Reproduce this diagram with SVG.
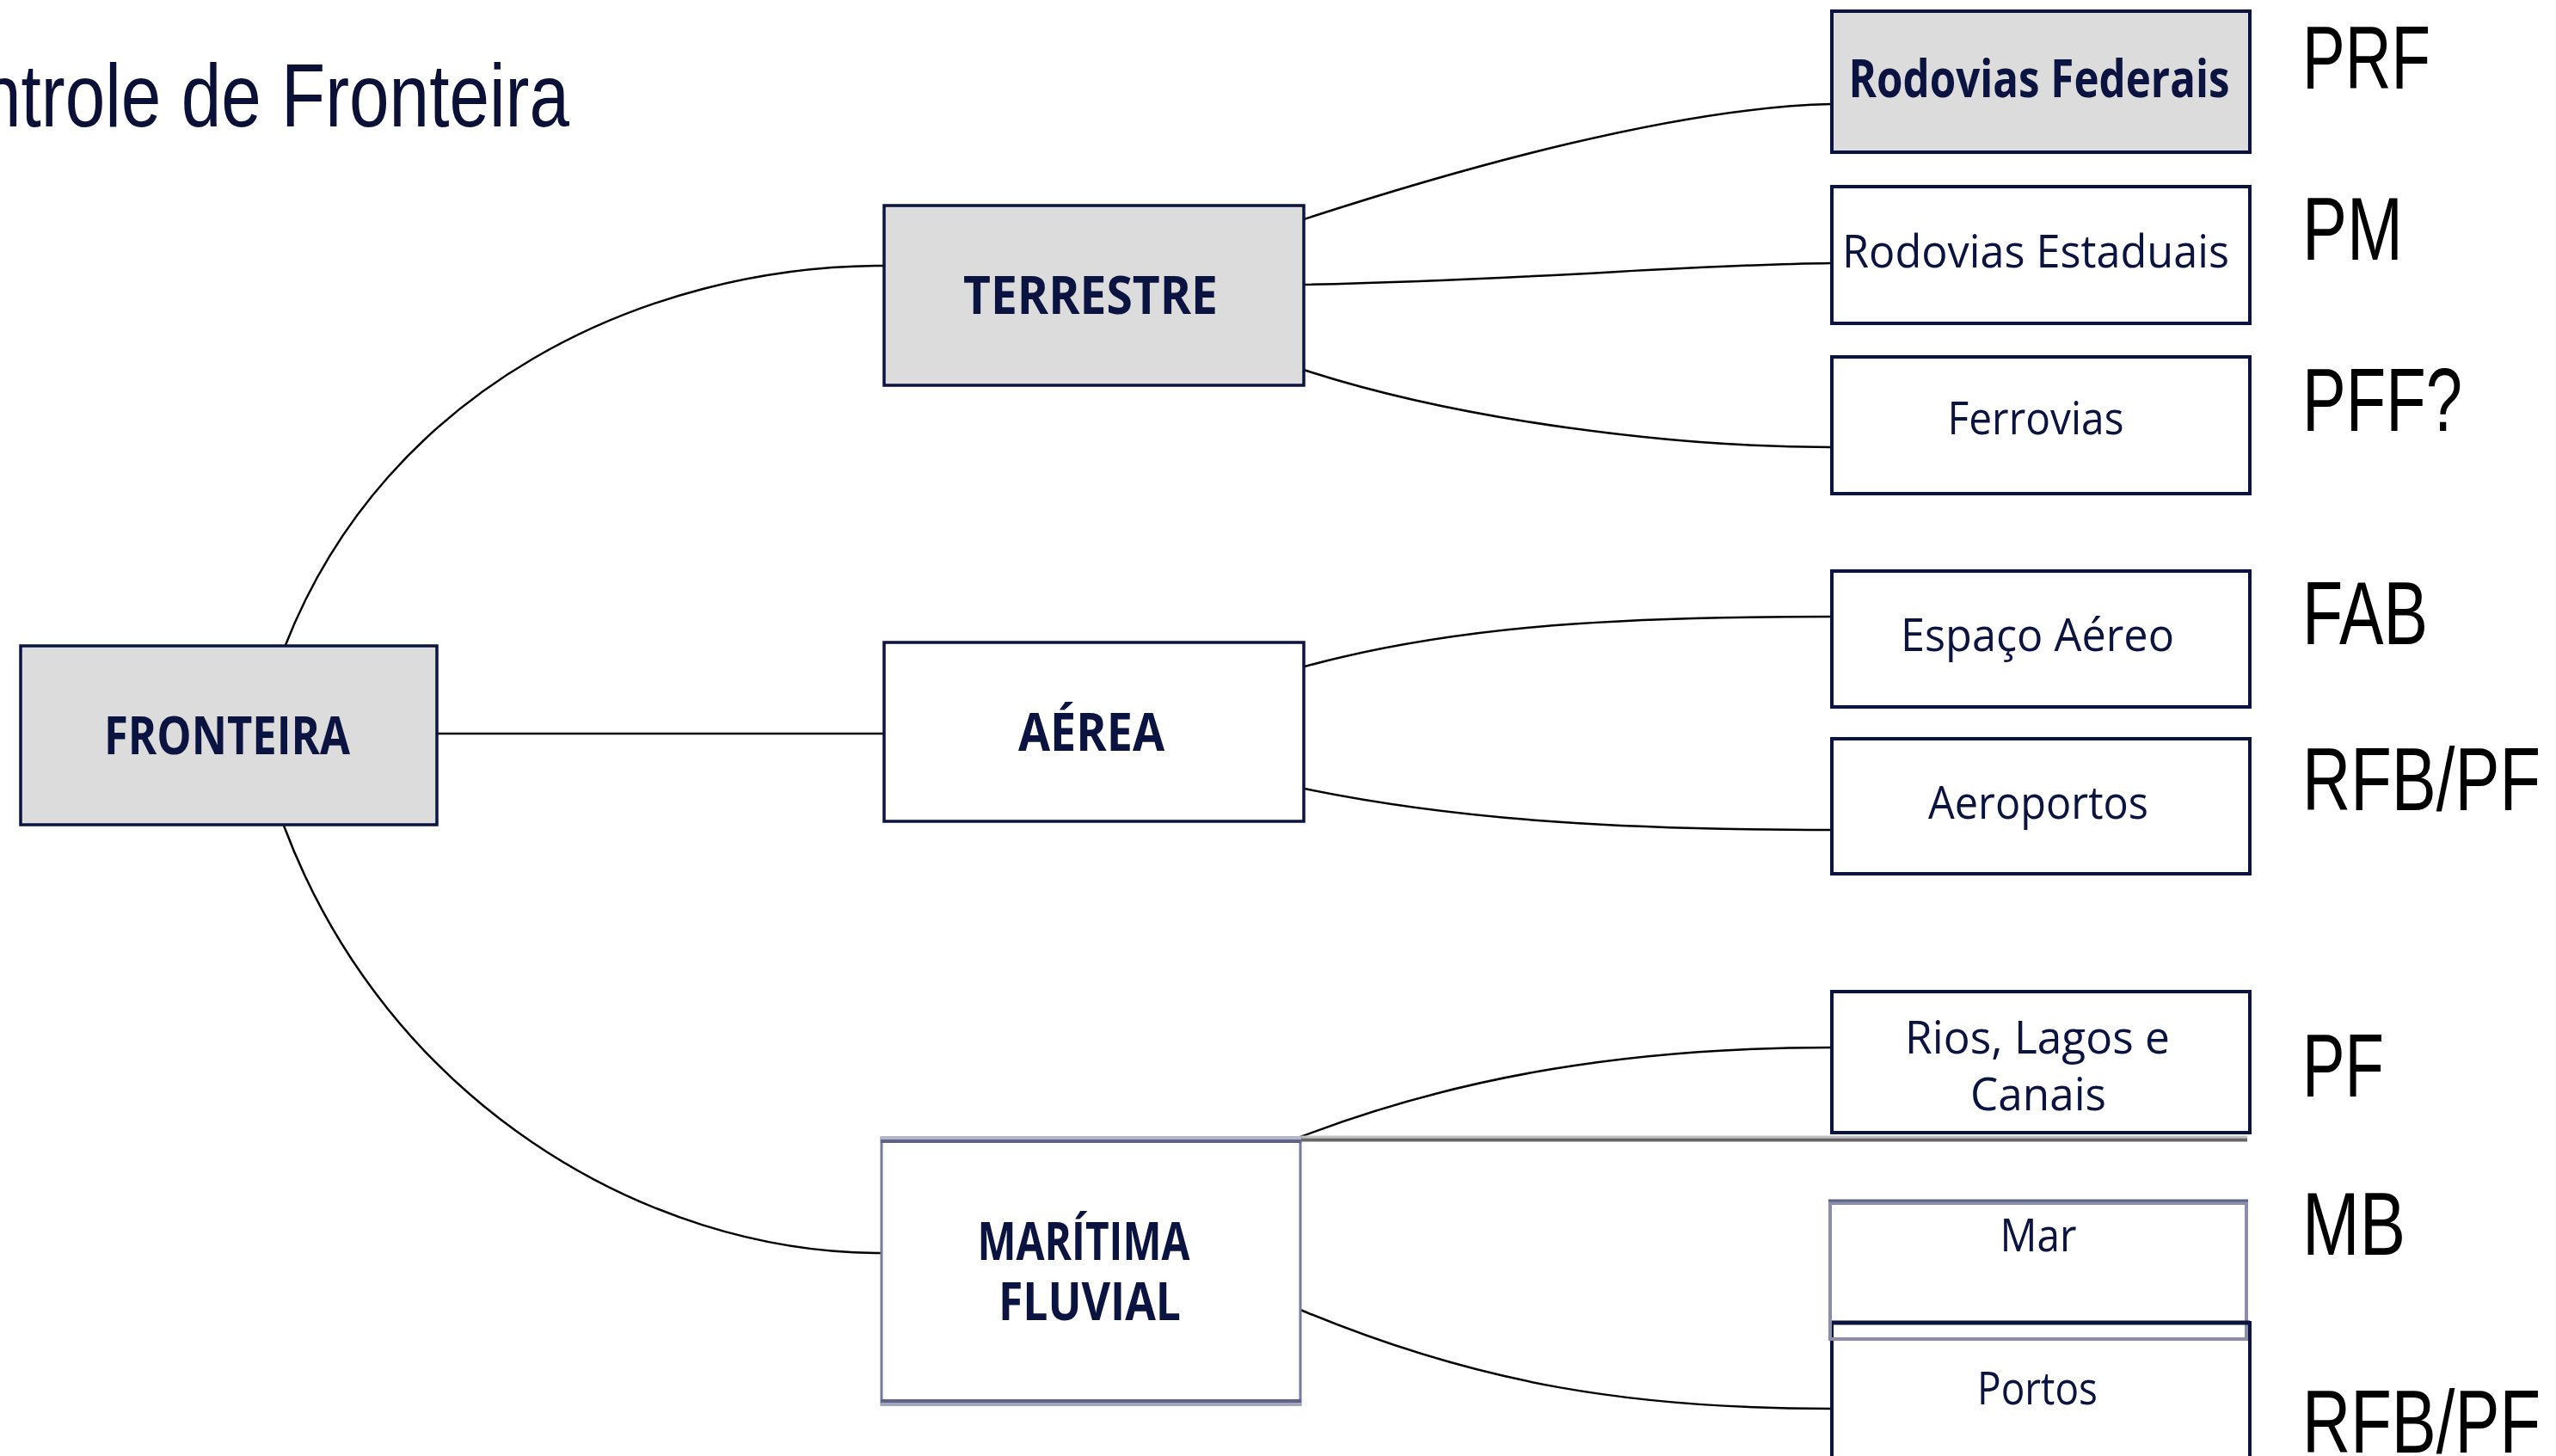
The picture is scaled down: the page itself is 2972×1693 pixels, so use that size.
<svg xmlns="http://www.w3.org/2000/svg" width="2972" height="1693" viewBox="0 0 2972 1693">
<style>
.bg{fill:#ffffff}
.box{fill:#ffffff;stroke:#0b1341;stroke-width:4}
.grey{fill:#dcdcdc}
.mid{stroke-width:3.5}
.t{font-family:"Open Sans","DejaVu Sans",sans-serif;fill:#0b1341;text-anchor:middle}
.b{font-weight:bold;font-size:61px}
.r{font-size:53px}
.lab{font-family:"Liberation Sans",Arial,sans-serif;font-size:103px;fill:#000000}
.title{font-family:"Liberation Sans",Arial,sans-serif;font-size:103px;fill:#0b1036}
.conn{fill:none;stroke:#000000;stroke-width:2.5}
</style>
<rect class="bg" x="0" y="0" width="2972" height="1693"/>
<text class="title" x="-22" y="147" textLength="684" lengthAdjust="spacingAndGlyphs">ntrole de Fronteira</text>

<g id="connectors">
<path class="conn" d="M332,750 C450,450 750,309 1027,309"/>
<path class="conn" d="M330,960 C450,1280 750,1457 1024,1457"/>
<path class="conn" d="M508,853 L1027,853" stroke-width="3.5"/>
<path class="conn" d="M1516,255 C1700,195 1950,125 2129,121"/>
<path class="conn" d="M1516,331 C1800,325 1950,308 2129,306"/>
<path class="conn" d="M1516,430 C1700,490 1950,520 2129,520"/>
<path class="conn" d="M1517,775 C1700,725 1900,717 2129,717"/>
<path class="conn" d="M1517,917 C1700,955 1900,965 2129,965"/>
<path class="conn" d="M1512,1322 C1700,1250 1900,1218 2129,1218"/>
<path class="conn" d="M1512,1523 C1720,1610 1900,1638 2129,1638"/>
<line x1="1512" y1="1322" x2="2613" y2="1322" stroke="#c2c2c2" stroke-width="3"/>
<line x1="1512" y1="1325.5" x2="2613" y2="1325.5" stroke="#666666" stroke-width="4"/>
</g>

<g id="n-fronteira">
<rect class="box grey mid" x="24" y="751" width="484" height="208"/>
<text class="t b" x="264" y="877" textLength="286" lengthAdjust="spacingAndGlyphs">FRONTEIRA</text>
</g>

<g id="n-terrestre">
<rect class="box grey mid" x="1028" y="239" width="488" height="209"/>
<text class="t b" x="1268" y="365" textLength="296" lengthAdjust="spacingAndGlyphs">TERRESTRE</text>
</g>

<g id="n-aerea">
<rect class="box mid" x="1028" y="747" width="488" height="208"/>
<text class="t b" x="1269" y="873" textLength="170" lengthAdjust="spacingAndGlyphs">AÉREA</text>
</g>

<g id="n-maritima">
<rect x="1025" y="1323" width="487" height="310" fill="#ffffff" stroke="#767a9c" stroke-width="3"/>
<line x1="1024" y1="1323" x2="1513" y2="1323" stroke="#b4b6c8" stroke-width="4"/>
<line x1="1024" y1="1327" x2="1513" y2="1327" stroke="#5f6389" stroke-width="4"/>
<line x1="1024" y1="1629" x2="1513" y2="1629" stroke="#5f6389" stroke-width="4"/>
<line x1="1024" y1="1633" x2="1513" y2="1633" stroke="#a4a6bc" stroke-width="4"/>
<text class="t b" x="1260" y="1465" textLength="247" lengthAdjust="spacingAndGlyphs">MARÍTIMA</text>
<text class="t b" x="1267" y="1535" textLength="212" lengthAdjust="spacingAndGlyphs">FLUVIAL</text>
</g>

<g id="n-rodovias-federais">
<rect class="box grey" x="2130" y="13" width="486" height="164"/>
<text class="t b" x="2371" y="113" textLength="443" lengthAdjust="spacingAndGlyphs">Rodovias Federais</text>
</g>

<g id="n-rodovias-estaduais">
<rect class="box" x="2130" y="217" width="486" height="159"/>
<text class="t r" x="2367" y="311" textLength="450" lengthAdjust="spacingAndGlyphs">Rodovias Estaduais</text>
</g>

<g id="n-ferrovias">
<rect class="box" x="2130" y="415" width="486" height="159"/>
<text class="t r" x="2367" y="505" textLength="205" lengthAdjust="spacingAndGlyphs">Ferrovias</text>
</g>

<g id="n-espaco-aereo">
<rect class="box" x="2130" y="664" width="486" height="158"/>
<text class="t r" x="2369" y="757" textLength="318" lengthAdjust="spacingAndGlyphs">Espaço Aéreo</text>
</g>

<g id="n-aeroportos">
<rect class="box" x="2130" y="859" width="486" height="157"/>
<text class="t r" x="2370" y="952" textLength="256" lengthAdjust="spacingAndGlyphs">Aeroportos</text>
</g>

<g id="n-rios">
<rect class="box" x="2130" y="1153" width="486" height="164"/>
<text class="t r" x="2369" y="1225" textLength="308" lengthAdjust="spacingAndGlyphs">Rios, Lagos e</text>
<text class="t r" x="2370" y="1291" textLength="158" lengthAdjust="spacingAndGlyphs">Canais</text>
</g>

<g id="n-portos">
<rect x="2130" y="1538" width="486" height="200" fill="#ffffff" stroke="#0b1341" stroke-width="4"/>
<text class="t r" x="2369" y="1633" textLength="140" lengthAdjust="spacingAndGlyphs">Portos</text>
</g>

<g id="n-mar">
<rect x="2128" y="1399" width="484" height="158" fill="none" stroke="#8a8ea8" stroke-width="4"/>
<line x1="2126" y1="1396" x2="2614" y2="1396" stroke="#5f6389" stroke-width="3"/>
<line x1="2130" y1="1538" x2="2616" y2="1538" stroke="#0b1341" stroke-width="5"/>
<text class="t r" x="2370" y="1455" textLength="89" lengthAdjust="spacingAndGlyphs">Mar</text>
</g>

<g id="labels">
<text class="lab" x="2677" y="103" textLength="149" lengthAdjust="spacingAndGlyphs">PRF</text>
<text class="lab" x="2677" y="302" textLength="117" lengthAdjust="spacingAndGlyphs">PM</text>
<text class="lab" x="2677" y="501" textLength="186" lengthAdjust="spacingAndGlyphs">PFF?</text>
<text class="lab" x="2677" y="749" textLength="146" lengthAdjust="spacingAndGlyphs">FAB</text>
<text class="lab" x="2677" y="942" textLength="277" lengthAdjust="spacingAndGlyphs">RFB/PF</text>
<text class="lab" x="2677" y="1275" textLength="95" lengthAdjust="spacingAndGlyphs">PF</text>
<text class="lab" x="2677" y="1459" textLength="120" lengthAdjust="spacingAndGlyphs">MB</text>
<text class="lab" x="2677" y="1689" textLength="277" lengthAdjust="spacingAndGlyphs">RFB/PF</text>
</g>
</svg>
